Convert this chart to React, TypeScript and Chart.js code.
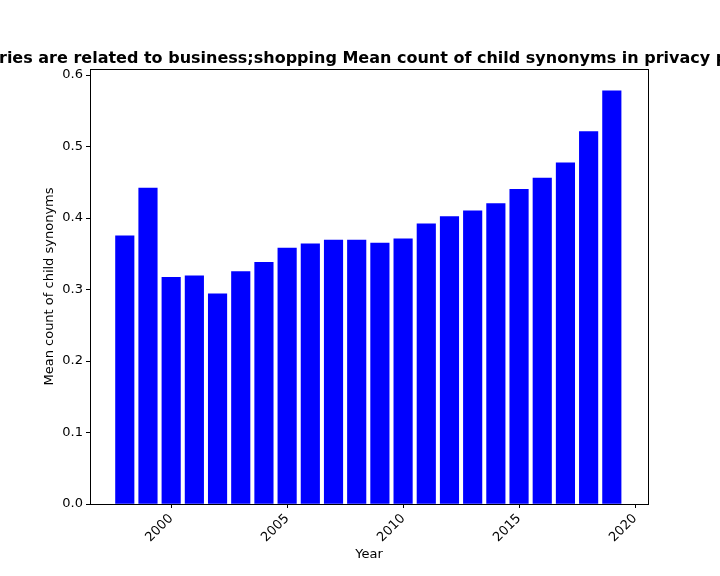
import { useEffect, useRef } from "react";
import { Chart, registerables } from "chart.js";

Chart.register(...registerables);

const years = [1998, 1999, 2000, 2001, 2002, 2003, 2004, 2005, 2006, 2007, 2008, 2009, 2010, 2011, 2012, 2013, 2014, 2015, 2016, 2017, 2018, 2019];
const meanCounts = [0.375, 0.442, 0.317, 0.319, 0.294, 0.325, 0.338, 0.358, 0.364, 0.369, 0.369, 0.365, 0.371, 0.392, 0.402, 0.410, 0.420, 0.440, 0.456, 0.477, 0.521, 0.578];
const titleText = "Categories are related to business;shopping Mean count of child synonyms in privacy policies";

const FONT = "'DejaVu Sans', sans-serif";

const frameAndTitle = {
  id: "frameAndTitle",
  afterDraw(chart: Chart) {
    const { ctx, chartArea: a } = chart;
    ctx.save();
    ctx.strokeStyle = "#000";
    ctx.lineWidth = 1;
    ctx.strokeRect(a.left + 0.5, a.top + 0.5, a.right - a.left, a.bottom - a.top);
    ctx.fillStyle = "#000";
    ctx.font = `bold 16px ${FONT}`;
    ctx.textAlign = "center";
    ctx.textBaseline = "alphabetic";
    ctx.fillText(titleText, 360, 63);
    ctx.restore();
  },
};

const App = () => {
  const chartRef = useRef<HTMLCanvasElement | null>(null);

  useEffect(() => {
    document.body.style.margin = "0";
    if (!chartRef.current) return;
    const chart = new Chart(chartRef.current, {
      type: "bar",
      data: {
        datasets: [
          {
            data: years.map((y, i) => ({ x: y, y: meanCounts[i] })),
            backgroundColor: "#0000ff",
            barThickness: 18.5,
          },
        ],
      },
      options: {
        animation: false,
        responsive: false,
        layout: { padding: { left: 38, right: 72, top: 69, bottom: 10 } },
        plugins: { legend: { display: false }, tooltip: { enabled: false } },
        scales: {
          x: {
            type: "linear",
            offset: false,
            min: 1996.5,
            max: 2020.56,
            afterFit: (s: any) => { s.height = 62; },
            afterBuildTicks: (s: any) => { s.ticks = [2000, 2005, 2010, 2015, 2020].map((v) => ({ value: v })); },
            grid: { display: true, offset: false, drawOnChartArea: false, tickLength: 4, color: "#000" },
            border: { display: false },
            ticks: { color: "#000", font: { size: 13, family: FONT }, maxRotation: 45, minRotation: 45, callback: (v: any) => String(v) },
            title: { display: true, text: "Year", color: "#000", font: { size: 13, family: FONT }, padding: { top: 0 } },
          },
          y: {
            min: 0,
            max: 0.6084,
            afterFit: (s: any) => { s.width = 52; },
            afterBuildTicks: (s: any) => { s.ticks = [0, 0.1, 0.2, 0.3, 0.4, 0.5, 0.6].map((v) => ({ value: v })); },
            grid: { display: true, drawOnChartArea: false, tickLength: 4, color: "#000" },
            border: { display: false },
            ticks: { color: "#000", font: { size: 13, family: FONT }, callback: (v: any) => Number(v).toFixed(1) },
            title: { display: true, text: "Mean count of child synonyms", color: "#000", font: { size: 13, family: FONT } },
          },
        },
      },
      plugins: [frameAndTitle],
    });
    return () => chart.destroy();
  }, []);

  return <canvas ref={chartRef} width={720} height={576} style={{ display: "block" }} />;
};

export default App;
